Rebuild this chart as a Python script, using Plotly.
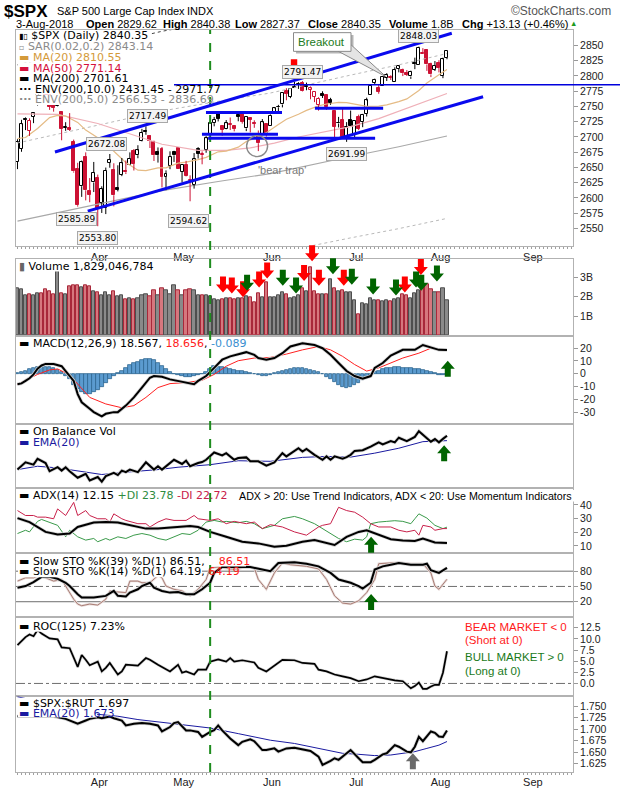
import plotly.graph_objects as go

# ===================== DATA (trading-day index 0 = 2-Mar-2018) =====================
prev_close = 2677.67
opens = [2658.89, 2681.06, 2730.18, 2710.18, 2732.75, 2752.91, 2790.54, 2792.31, 2774.06, 2754.27,
         2750.57, 2741.38, 2715.05, 2714.99, 2691.36, 2646.71, 2619.35, 2667.57, 2611.30, 2625.45,
         2633.45, 2592.17, 2584.04, 2657.36, 2645.82, 2617.18, 2638.41, 2643.89, 2653.83, 2676.90,
         2670.10, 2692.74, 2710.11, 2701.16, 2692.56, 2675.40, 2680.80, 2634.92, 2651.65, 2675.47,
         2682.51, 2642.96, 2654.24, 2628.08, 2621.45, 2680.34, 2670.26, 2678.12, 2705.02, 2722.70,
         2738.47, 2718.59, 2712.62, 2719.71, 2717.35, 2735.39, 2738.34, 2713.98, 2730.94, 2723.60,
         2705.11, 2702.43, 2720.98, 2718.70, 2741.67, 2748.46, 2753.25, 2774.84, 2765.84, 2780.18,
         2785.60, 2787.94, 2783.21, 2777.78, 2765.79, 2752.01, 2769.73, 2769.28, 2760.79, 2742.94,
         2722.12, 2728.45, 2698.69, 2727.13, 2704.95, 2733.27, 2724.19, 2737.68, 2768.51, 2788.56,
         2779.82, 2783.14, 2796.93, 2797.36, 2789.34, 2811.35, 2809.37, 2804.55, 2799.17, 2820.68,
         2817.73, 2835.49, 2842.35, 2819.00, 2809.73, 2821.17, 2800.48, 2829.62]
highs = [2696.25, 2728.09, 2732.08, 2730.60, 2740.45, 2786.57, 2796.98, 2801.90, 2777.11, 2763.03,
         2761.85, 2741.38, 2724.22, 2739.14, 2695.68, 2657.67, 2661.36, 2674.78, 2632.65, 2659.07,
         2638.30, 2619.14, 2649.86, 2672.08, 2656.88, 2653.55, 2665.45, 2661.43, 2674.72, 2680.26,
         2686.49, 2713.34, 2717.49, 2702.84, 2693.94, 2682.86, 2683.55, 2645.30, 2676.48, 2677.35,
         2682.87, 2655.27, 2660.87, 2637.14, 2673.61, 2683.35, 2676.34, 2701.27, 2726.11, 2732.86,
         2742.10, 2718.59, 2727.76, 2731.96, 2719.50, 2739.19, 2742.24, 2733.33, 2731.97, 2727.36,
         2710.67, 2729.34, 2722.50, 2736.93, 2749.16, 2752.61, 2772.39, 2779.90, 2779.39, 2790.21,
         2789.80, 2791.47, 2789.06, 2782.81, 2774.99, 2765.05, 2774.86, 2769.28, 2764.17, 2742.94,
         2732.91, 2746.09, 2724.34, 2743.26, 2727.26, 2736.58, 2737.83, 2764.41, 2784.65, 2795.58,
         2785.91, 2799.22, 2804.53, 2801.19, 2814.19, 2816.76, 2812.05, 2809.70, 2808.61, 2829.99,
         2848.03, 2845.57, 2843.17, 2821.74, 2824.46, 2825.83, 2829.91, 2840.38]
lows = [2647.32, 2675.75, 2711.26, 2701.74, 2722.65, 2751.54, 2779.26, 2758.68, 2744.38, 2741.47,
        2749.97, 2694.59, 2710.05, 2709.79, 2641.59, 2585.89, 2601.81, 2596.12, 2593.06, 2609.72,
        2553.80, 2575.49, 2573.61, 2649.58, 2586.27, 2610.79, 2635.78, 2639.25, 2653.83, 2645.05,
        2665.16, 2692.05, 2703.63, 2681.90, 2660.61, 2657.99, 2617.32, 2612.67, 2647.16, 2659.01,
        2648.04, 2625.41, 2635.03, 2594.62, 2615.32, 2664.70, 2655.20, 2674.14, 2704.54, 2717.45,
        2725.47, 2701.91, 2712.17, 2711.36, 2709.18, 2725.70, 2721.88, 2709.54, 2707.38, 2714.99,
        2676.81, 2702.43, 2700.68, 2718.70, 2740.54, 2739.51, 2748.46, 2760.16, 2763.59, 2780.17,
        2778.78, 2774.65, 2776.52, 2761.73, 2757.12, 2743.19, 2763.91, 2744.39, 2752.68, 2698.67,
        2715.60, 2699.38, 2691.99, 2718.03, 2698.95, 2711.16, 2716.02, 2733.52, 2768.51, 2786.24,
        2770.77, 2783.14, 2791.69, 2793.39, 2789.24, 2805.89, 2799.77, 2800.01, 2795.14, 2811.12,
        2817.73, 2835.26, 2808.34, 2798.11, 2808.06, 2805.85, 2796.34, 2827.37]
closes = [2691.25, 2720.94, 2728.12, 2726.80, 2738.97, 2786.57, 2783.02, 2765.31, 2749.48, 2747.33,
          2752.01, 2712.92, 2716.94, 2711.93, 2643.69, 2588.26, 2658.55, 2612.62, 2605.00, 2640.87,
          2581.88, 2614.45, 2644.69, 2662.84, 2604.47, 2613.16, 2656.87, 2642.19, 2663.99, 2656.30,
          2677.84, 2706.39, 2708.64, 2693.13, 2670.14, 2670.29, 2634.56, 2639.40, 2666.94, 2669.91,
          2648.05, 2654.80, 2635.67, 2629.73, 2663.42, 2672.63, 2671.92, 2697.79, 2723.07, 2727.72,
          2730.13, 2711.45, 2722.46, 2720.13, 2712.97, 2733.01, 2724.44, 2733.29, 2727.76, 2721.33,
          2689.86, 2724.01, 2705.27, 2734.62, 2746.87, 2748.80, 2772.35, 2770.37, 2779.03, 2782.00,
          2786.85, 2775.63, 2782.49, 2779.66, 2773.75, 2762.59, 2767.32, 2749.76, 2754.88, 2717.07,
          2723.06, 2699.63, 2716.31, 2718.37, 2726.71, 2713.22, 2736.61, 2759.82, 2784.17, 2793.84,
          2774.02, 2798.29, 2801.31, 2798.43, 2809.55, 2815.62, 2804.49, 2801.83, 2806.98, 2820.40,
          2846.07, 2837.44, 2818.82, 2802.60, 2816.29, 2813.36, 2827.22, 2840.35]
volume_b = [2.45, 2.40, 2.10, 2.15, 2.10, 2.20, 2.20, 2.40, 2.30, 2.15,
            3.30, 2.20, 2.15, 2.55, 2.60, 2.60, 2.50, 2.60, 2.55, 2.30,
            2.25, 2.10, 2.25, 2.05, 2.30, 2.00, 2.05, 1.85, 1.90, 1.85,
            1.90, 2.10, 2.15, 2.00, 2.35, 2.10, 2.45, 2.35, 2.15, 2.60,
            2.35, 2.10, 2.35, 2.40, 2.35, 2.05, 2.05, 2.10, 2.00, 1.85,
            1.80, 1.85, 1.90, 1.90, 1.85, 1.90, 1.90, 2.00, 1.95, 1.70,
            2.20, 1.95, 2.75, 1.95, 1.95, 2.05, 2.25, 2.15, 1.90, 1.95,
            2.05, 2.45, 2.30, 3.50, 2.30, 2.15, 2.15, 2.15, 2.90, 2.45,
            2.30, 2.35, 2.25, 2.25, 1.80, 1.12, 1.68, 1.60, 1.90, 1.80,
            1.80, 1.75, 1.80, 1.78, 1.85, 1.90, 2.15, 2.10, 1.90, 2.20,
            2.35, 2.60, 2.65, 2.40, 2.25, 2.25, 2.45, 1.83]

month_labels = ["Apr", "May", "Jun", "Jul", "Aug", "Sep"]
month_start_idx = [20, 41, 63, 84, 105, 128]
signal_day_idx = 48  # 10-May-2018 (green dashed line)

ma20_idx = [0, 2, 5, 8, 10, 12, 15, 17, 20, 22, 25, 27, 30, 32, 35, 37, 40, 42, 45, 47, 50, 52, 55, 57,
            60, 62, 65, 67, 70, 72, 75, 77, 80, 82, 85, 87, 90, 92, 95, 97, 100, 102, 105, 107]
ma20_val = [2697.2, 2699.1, 2713.9, 2731.8, 2735.3, 2734.4, 2723.9, 2711.3, 2698.6, 2689.1, 2670.5, 2658.0,
            2645.5, 2644.7, 2649.2, 2649.4, 2657.2, 2658.8, 2663.0, 2666.6, 2675.7, 2676.7, 2683.3, 2692.5,
            2700.2, 2707.1, 2720.3, 2729.0, 2737.3, 2743.6, 2751.0, 2754.0, 2756.8, 2756.2, 2752.6, 2750.2,
            2750.4, 2752.5, 2757.9, 2762.4, 2776.3, 2788.3, 2802.0, 2810.55]
ma50_idx = [0, 10, 20, 30, 36, 45, 52, 58, 64, 70, 76, 83, 90, 95, 100, 104, 107]
ma50_val = [2738, 2737, 2722, 2700, 2688, 2678, 2678, 2682, 2690, 2700, 2708, 2717, 2730, 2742, 2754, 2764, 2771.14]
ma200_idx = [0, 20, 36, 50, 63, 83, 95, 107]
ma200_val = [2562, 2590, 2612, 2627, 2640, 2668, 2684, 2701.61]
env5_up = [2690.1, 2719.5, 2742.6, 2758.4, 2772.0, 2801.4, 2818.2, 2836.69]
env5_lo = [2433.9, 2460.5, 2481.4, 2495.7, 2508.0, 2534.6, 2549.8, 2566.53]
env10_up = [2818.2, 2849.0, 2873.2, 2889.7, 2904.0, 2934.8, 2952.4, 2971.77]

macd_idx = [0, 1, 2, 3, 4, 5, 6, 7, 9, 11, 12, 14, 15, 16, 18, 19, 21, 22, 24, 25, 27, 29, 31, 33, 34, 36, 38,
            40, 42, 44, 45, 47, 49, 51, 53, 55, 57, 59, 60, 62, 64, 66, 68, 71, 74, 76, 78, 80, 82, 84, 86,
            88, 89, 91, 93, 96, 99, 101, 103, 105, 107]
macd_val = [-8.2, -7.5, -5.5, -3.5, -0.5, 4.0, 6.5, 7.7, 7.7, 5.9, 2.1, -5.6, -15.9, -22.3, -27.4, -30.0,
            -33.3, -31.3, -30.0, -30.0, -24.9, -18.5, -10.8, -3.1, -1.8, -2.3, -4.4, -5.6, -6.4, -8.2, -5.6,
            -1.8, 4.6, 11.0, 13.6, 15.4, 16.9, 14.8, 12.3, 11.0, 12.3, 16.1, 21.3, 23.8, 22.5, 20.0, 14.8,
            8.4, 2.1, -1.8, -3.9, -1.8, 4.6, 8.4, 14.3, 18.7, 18.7, 22.5, 20.3, 18.7, 18.567]
sig_idx = [0, 5, 8, 10, 13, 15, 18, 22, 26, 29, 32, 35, 38, 42, 46, 49, 52, 55, 59, 63, 67, 71, 75, 78, 81,
           84, 87, 90, 93, 96, 100, 103, 105, 107]
sig_val = [-8.2, -0.5, 3.0, 3.8, -1.0, -8.2, -18.5, -23.6, -26.6, -24.9, -18.5, -10.8, -7.7, -6.9, -5.1,
           -0.5, 5.9, 10.2, 12.3, 12.8, 15.4, 18.7, 21.3, 18.7, 13.6, 7.2, 2.1, 4.6, 8.4, 12.3, 16.1, 20.0,
           19.0, 18.656]
macd_hist = [0.5, 1.5, 2.5, 3.5, 4.5, 5.2, 5.8, 5.6, 5.0, 4.2, 3.0, 1.2,
             -1.5, -4.5, -8.5, -12.0, -14.5, -16.0, -15.5, -14.0, -12.5, -10.0, -7.0, -4.5, -2.0,
             0.5, 2.5, 4.5, 6.5, 8.0, 9.5, 10.5, 11.2, 11.5, 10.5, 8.5, 6.0, 3.5, 1.5,
             0.0, -1.0, -1.8, -2.2, -2.5, -2.0, -1.2, -0.5,
             1.5, 4.0, 5.8, 5.5, 5.0, 4.3, 3.5, 3.0, 2.5, 2.0,
             1.2, 0.5, -0.5, -1.2, -1.5, -1.8,
             -0.8, 0.5, 1.5, 2.5, 3.2, 3.8, 4.2, 4.5, 4.4, 4.0, 3.2, 2.2, 1.2,
             -0.5, -2.5, -4.5, -6.5, -8.5, -10.0, -10.8, -10.5, -9.0, -7.0, -5.0, -3.0, -1.0,
             1.0, 2.5, 3.5, 4.2, 4.8, 5.0, 5.0, 4.8, 4.5, 4.2, 3.8, 3.5, 3.2, 2.5, 1.5,
             0.5, -0.8, -1.0, -0.089]

obv_idx = [0, 2, 4, 5, 7, 8, 10, 11, 12, 13, 15, 17, 18, 20, 21, 22, 24, 25, 26, 27, 28, 30, 32, 34, 35, 36,
           39, 41, 42, 43, 45, 46, 47, 49, 51, 52, 54, 55, 57, 58, 60, 62, 64, 66, 67, 69, 70, 71, 72, 74,
           76, 77, 78, 79, 81, 82, 83, 84, 86, 88, 90, 91, 93, 94, 95, 97, 98, 99, 100, 101, 102, 103, 104,
           105, 106, 107]
obv_val = [18.3, 25.7, 23.3, 29.3, 25.0, 16.7, 20.7, 17.3, 20.7, 16.7, 10.0, 14.0, 7.3, 10.7, 6.0, 11.7,
           15.0, 12.7, 17.3, 15.7, 18.3, 15.7, 25.7, 18.3, 21.7, 18.3, 28.3, 24.0, 27.3, 21.7, 25.0, 26.0,
           28.3, 35.7, 32.7, 35.0, 28.3, 30.0, 30.7, 26.7, 26.7, 22.3, 25.7, 35.0, 31.7, 37.3, 40.0, 36.7,
           39.3, 33.3, 28.3, 31.7, 28.3, 31.7, 29.3, 31.0, 33.3, 37.3, 38.0, 41.7, 46.0, 44.0, 47.3, 46.0,
           50.7, 47.3, 49.0, 51.5, 57.3, 53.5, 50.0, 46.7, 49.3, 46.0, 49.5, 52.7]
obv_ema_idx = [0, 5, 10, 15, 21, 28, 35, 40, 48, 55, 63, 71, 77, 83, 89, 95, 101, 107]
obv_ema_val = [18.3, 21.7, 20.0, 16.7, 13.3, 16.0, 18.3, 20.7, 23.3, 27.3, 26.7, 30.7, 31.7, 31.0, 35.0,
               40.0, 46.7, 47.7]

adx_idx = [0, 3, 7, 10, 13, 15, 19, 22, 25, 28, 32, 35, 39, 43, 45, 48, 52, 56, 60, 64, 67, 71, 74, 77, 79,
           82, 85, 87, 90, 93, 96, 99, 101, 104, 107]
adx_val = [30.4, 27.5, 20.3, 18.4, 19.1, 23.9, 27.1, 27.5, 27.1, 25.1, 22.7, 22.7, 23.9, 24.6, 23.9, 20.3,
           16.7, 13.1, 11.9, 9.5, 10.2, 13.1, 14.3, 11.9, 10.7, 16.7, 20.3, 21.5, 18.4, 15.0, 14.0, 13.6,
           15.5, 12.6, 12.15]
pdi_idx = [0, 2, 3, 5, 6, 8, 10, 12, 13, 15, 17, 19, 20, 22, 23, 25, 27, 29, 31, 33, 35, 37, 39, 41, 43, 45,
           47, 49, 51, 52, 55, 57, 59, 61, 64, 66, 69, 71, 74, 76, 78, 80, 82, 84, 86, 87, 88, 90, 92, 94,
           96, 98, 99, 100, 102, 104, 106, 107]
pdi_val = [19.1, 21.5, 20.3, 28.0, 29.4, 27.5, 25.1, 16.7, 21.5, 16.7, 14.3, 15.5, 13.1, 15.5, 14.3, 16.7,
           15.5, 17.9, 19.1, 17.9, 15.5, 14.3, 16.7, 19.1, 18.4, 21.5, 27.5, 28.7, 27.5, 28.0, 27.0, 28.0,
           26.3, 22.7, 25.1, 29.9, 31.6, 29.9, 26.3, 22.7, 19.1, 15.5, 13.1, 15.0, 14.3, 16.7, 26.3, 27.5,
           28.0, 28.5, 28.0, 26.3, 29.9, 33.5, 30.4, 25.1, 22.7, 23.78]
mdi_idx = [0, 2, 4, 5, 7, 9, 10, 12, 14, 15, 17, 18, 20, 22, 23, 24, 26, 27, 30, 32, 33, 35, 37, 39, 42, 44,
           45, 48, 50, 52, 54, 57, 59, 61, 63, 66, 69, 72, 75, 76, 78, 80, 82, 84, 86, 88, 90, 93, 95, 97,
           99, 100, 101, 103, 104, 106, 107]
mdi_val = [35.9, 32.3, 32.3, 31.1, 31.1, 29.9, 37.1, 32.3, 41.9, 32.3, 35.9, 32.3, 29.9, 29.9, 27.5, 33.5,
           29.9, 28.7, 26.3, 26.3, 23.9, 27.5, 29.9, 28.7, 28.7, 32.3, 29.9, 28.7, 29.9, 26.3, 28.0, 26.3,
           27.5, 22.7, 25.6, 23.9, 20.3, 17.9, 23.9, 25.1, 26.3, 38.3, 35.9, 34.7, 31.1, 26.3, 23.9, 23.9,
           21.5, 20.3, 21.5, 17.9, 25.1, 23.9, 21.5, 22.7, 22.72]

k39_idx = [0, 2, 4, 6, 8, 10, 12, 13, 15, 16, 19, 22, 24, 25, 27, 28, 30, 31, 33, 34, 36, 38, 40, 42, 44, 46,
           48, 49, 51, 53, 56, 58, 61, 63, 65, 69, 72, 75, 78, 80, 83, 85, 86, 88, 89, 91, 93, 95, 98, 101,
           102, 103, 105, 107]
k39_val = [47.6, 50.8, 58.6, 68.9, 68.9, 65.0, 57.3, 50.8, 34.7, 28.3, 28.3, 31.5, 41.2, 31.5, 30.2, 37.9,
           44.4, 50.8, 57.3, 47.6, 41.2, 37.9, 39.2, 34.7, 34.7, 44.4, 57.3, 76.6, 88.2, 88.2, 88.2, 88.2,
           83.1, 79.8, 96.0, 97.3, 94.7, 89.5, 76.6, 63.7, 57.3, 50.8, 45.7, 57.3, 83.1, 89.5, 92.7, 96.0,
           92.7, 92.7, 94.7, 81.8, 76.6, 86.51]
k14_idx = [0, 2, 4, 5, 7, 9, 11, 12, 14, 15, 16, 18, 20, 22, 23, 25, 27, 28, 30, 31, 33, 35, 36, 37, 39, 41,
           43, 45, 47, 48, 50, 53, 55, 57, 59, 60, 62, 64, 66, 68, 72, 75, 77, 79, 81, 83, 85, 87, 89, 90,
           93, 95, 98, 101, 103, 104, 105, 107]
k14_val = [60.5, 67.0, 67.0, 70.2, 67.0, 60.5, 63.7, 50.8, 25.0, 15.4, 12.1, 15.4, 13.4, 25.0, 41.2, 39.2,
           37.9, 60.5, 60.5, 57.3, 57.3, 71.5, 67.0, 50.8, 44.4, 41.2, 31.5, 44.4, 63.7, 86.3, 88.2, 84.4,
           84.4, 89.5, 86.3, 63.7, 44.4, 76.6, 96.0, 92.7, 89.5, 84.4, 63.7, 31.5, 17.3, 15.4, 21.8, 37.9,
           63.7, 94.7, 96.0, 97.3, 94.7, 94.7, 76.6, 50.8, 44.4, 64.19]

roc_idx = [0, 2, 3, 4, 5, 6, 8, 10, 11, 13, 15, 16, 17, 18, 20, 21, 22, 23, 25, 26, 27, 29, 30, 32, 33, 35,
           37, 38, 40, 41, 42, 44, 45, 47, 48, 50, 52, 53, 54, 56, 59, 60, 62, 64, 66, 69, 71, 74, 75, 77,
           79, 81, 83, 85, 87, 89, 91, 93, 94, 96, 98, 99, 100, 101, 102, 103, 104, 105, 106, 107]
roc_val = [8.6, 10.4, 11.0, 10.6, 12.0, 11.2, 10.1, 9.9, 8.1, 7.9, 3.7, 6.4, 5.3, 4.1, 4.9, 2.7, 3.5, 4.6,
           2.0, 2.7, 4.2, 4.0, 4.0, 5.7, 5.3, 4.2, 3.1, 2.7, 4.2, 2.4, 2.7, 2.0, 3.1, 3.1, 4.9, 5.4, 4.9,
           5.7, 4.9, 5.2, 4.7, 3.5, 2.7, 4.0, 5.3, 5.2, 4.6, 4.4, 3.1, 2.7, 2.0, 1.6, 1.2, 0.5, 0.9, 1.6,
           1.2, 0.9, 0.7, 0.5, -1.1, -0.6, 0.2, -1.2, -1.2, -0.7, -0.3, -0.3, 2.4, 7.23]

rut_idx = [0, 3, 6, 9, 12, 14, 15, 17, 18, 20, 21, 23, 24, 26, 27, 29, 31, 33, 35, 36, 38, 39, 40, 42, 43,
           45, 46, 48, 49, 50, 51, 53, 55, 56, 58, 59, 61, 62, 64, 65, 67, 69, 71, 73, 75, 76, 78, 79, 80,
           82, 83, 85, 86, 88, 89, 91, 92, 94, 95, 97, 98, 99, 100, 101, 103, 104, 105, 106, 107]
rut_val = [1.7285, 1.729, 1.7285, 1.7285, 1.7226, 1.7155, 1.7119, 1.719, 1.7226, 1.7263, 1.7241, 1.7276,
           1.7241, 1.719, 1.7082, 1.7119, 1.7134, 1.7119, 1.7082, 1.6953, 1.7047, 1.7134, 1.7155, 1.6974,
           1.6974, 1.694, 1.6832, 1.694, 1.698, 1.7082, 1.6974, 1.6795, 1.6651, 1.6724, 1.678, 1.6737,
           1.6543, 1.6543, 1.658, 1.6509, 1.658, 1.6595, 1.6565, 1.6522, 1.6401, 1.622, 1.6306, 1.6364,
           1.6328, 1.6472, 1.6543, 1.6364, 1.6278, 1.6278, 1.6328, 1.645, 1.6472, 1.6651, 1.6616, 1.6509,
           1.6494, 1.6616, 1.6832, 1.6737, 1.695, 1.692, 1.684, 1.683, 1.697]
rut_ema_idx = [0, 5, 10, 15, 19, 25, 30, 37, 42, 48, 55, 63, 69, 75, 81, 85, 89, 93, 96, 99, 102, 105, 107]
rut_ema_val = [1.771, 1.762, 1.752, 1.741, 1.7334, 1.7284, 1.7211, 1.714, 1.7082, 1.7026, 1.6903, 1.6759,
               1.6688, 1.658, 1.6472, 1.645, 1.6422, 1.6435, 1.6472, 1.6509, 1.658, 1.6651, 1.673]

# analyst annotations: (panel, day index, value at arrow tip)
red_down_arrows = [("vol", 51.2, 2.22), ("vol", 53.4, 2.17), ("vol", 56.2, 1.97), ("vol", 60.2, 2.47),
                   ("vol", 62.2, 2.93), ("vol", 71.4, 2.81), ("vol", 73.4, 3.82), ("vol", 75.1, 2.56),
                   ("vol", 81.3, 2.56), ("vol", 96.5, 2.22), ("vol", 100.5, 3.12), ("main", 68.9, 2797.9)]
green_down_arrows = [("vol", 57.2, 2.31), ("vol", 66.1, 2.56), ("vol", 69.4, 2.16), ("vol", 78.6, 3.15),
                     ("vol", 83.3, 2.61), ("vol", 88.6, 2.11), ("vol", 94.3, 2.06), ("vol", 99.3, 2.47),
                     ("vol", 100.6, 2.31), ("vol", 104.5, 2.78)]
green_up_arrows = [("macd", 107.2, 10.2), ("obv", 106.3, 43.0), ("adx", 88.1, 16.7), ("sto", 88.1, 35.4)]
gray_up_arrows = [("rut", 98.5, 1.6472)]

price_labels = [("2717.49", 32.3, 2735.0), ("2672.08", 22.3, 2688.2), ("2585.89", 14.8, 2565.6),
                ("2553.80", 19.9, 2535.0), ("2594.62", 42.7, 2562.0), ("2791.47", 71.0, 2806.0),
                ("2848.03", 100.0, 2865.6), ("2691.99", 82.0, 2672.0)]
upper_channel = [(9.34, 2675.3), (108.2, 2870.0)]
lower_channel = [(17.5, 2578.5), (116.0, 2766.0)]
level_segments = [(46.96, 65.9, 2740.0), (45.96, 64.9, 2704.4), (47.5, 89.1, 2698.0), (74.1, 91.1, 2747.0)]
breakout_level = 2785.5

# ===================== GEOMETRY =====================
W, H = 620, 800
ML, MR, MT, MB = 16, 47, 30, 16
PW, PH = W - ML - MR, H - MT - MB
XR = [-0.37, 138.4]
PANELS = ["main", "vol", "macd", "obv", "adx", "sto", "roc", "rut"]
PANEL_PX = {"main": (30, 250), "vol": (263, 341), "macd": (341, 430), "obv": (430, 495),
            "adx": (495, 561), "sto": (561, 627), "roc": (627, 707), "rut": (707, 784)}
YR = {"main": (2520.5, 2875.3), "vol": (-0.015, 3.92), "macd": (-39.0, 29.5), "obv": (0, 65),
      "adx": (5.2, 52.7), "sto": (-11.0, 116.6), "roc": (-2.87, 14.8), "rut": (1.6063, 1.7722)}


def axid(p):
    i = PANELS.index(p) + 1
    s = "" if i == 1 else str(i)
    return "x" + s, "y" + s


def dom(p):
    t, b = PANEL_PX[p]
    return [(H - MB - b) / PH, (H - MB - t) / PH]


def PX(x):
    return (x - ML) / PW


def PY(y):
    return (H - MB - y) / PH


def DX(i):
    return (i - XR[0]) / (XR[1] - XR[0])


def DY(p, v):
    d0, d1 = dom(p)
    r0, r1 = YR[p]
    return d0 + (v - r0) / (r1 - r0) * (d1 - d0)


fig = go.Figure()


def add_line(p, xs, ys, color, width=1.0, dash=None):
    xa, ya = axid(p)
    fig.add_trace(go.Scatter(x=xs, y=ys, mode="lines", xaxis=xa, yaxis=ya, hoverinfo="skip",
                             showlegend=False, line=dict(color=color, width=width, dash=dash)))


RED = "#cc1133"
BLACK = "#000000"

# ---------- main panel ----------
add_line("main", ma200_idx, env10_up, "#444444", 1, "dot")
add_line("main", ma200_idx, env5_up, "#b9b9b9", 1, "dot")
add_line("main", ma200_idx, env5_lo, "#b9b9b9", 1, "dot")
add_line("main", ma200_idx, ma200_val, "#a9a9a9", 1.2)
add_line("main", ma50_idx, ma50_val, "#efb0b8", 1.2)
add_line("main", ma20_idx, ma20_val, "#e5bb85", 1.2)

days = list(range(len(closes)))
prevs = [prev_close] + closes[:-1]
is_down = [c < p for c, p in zip(closes, prevs)]
for col, flag in ((RED, True), (BLACK, False)):
    wx, wy = [], []
    for i in days:
        if is_down[i] != flag:
            continue
        top = max(opens[i], closes[i])
        bot = min(opens[i], closes[i])
        wx += [i, i, None, i, i, None]
        wy += [highs[i], top, None, bot, lows[i], None]
    add_line("main", wx, wy, col, 1)

line_cols = [RED if d else BLACK for d in is_down]
fill_cols = ["#ffffff" if c >= o else lc for o, c, lc in zip(opens, closes, line_cols)]
fig.add_trace(go.Bar(x=days, y=[max(abs(c - o), 0.9) for o, c in zip(opens, closes)],
                     base=[min(o, c) for o, c in zip(opens, closes)], width=0.74,
                     marker=dict(color=fill_cols, line=dict(color=line_cols, width=1)),
                     xaxis="x", yaxis="y", hoverinfo="skip", showlegend=False))

# ---------- volume ----------
fig.add_trace(go.Bar(x=days, y=volume_b, width=0.8,
                     marker=dict(color=["#d6777e" if d else "#8a8a8a" for d in is_down],
                                 line=dict(color=["#a8283a" if d else "#4e4e4e" for d in is_down], width=1)),
                     xaxis="x2", yaxis="y2", hoverinfo="skip", showlegend=False))

# ---------- MACD ----------
fig.add_trace(go.Bar(x=days, y=macd_hist, width=0.9,
                     marker=dict(color="#5b9bcf", line=dict(color="#2d6690", width=0.8)),
                     xaxis="x3", yaxis="y3", hoverinfo="skip", showlegend=False))
add_line("macd", sig_idx, sig_val, "#ff2020", 1)
add_line("macd", macd_idx, macd_val, "#d2d2d2", 3.5)
add_line("macd", macd_idx, macd_val, BLACK, 2)

# ---------- OBV ----------
add_line("obv", obv_ema_idx, obv_ema_val, "#1a1aa0", 1)
add_line("obv", obv_idx, obv_val, "#d6d6d6", 3.5)
add_line("obv", obv_idx, obv_val, BLACK, 2)

# ---------- ADX ----------
add_line("adx", pdi_idx, pdi_val, "#3a9a4a", 1)
add_line("adx", mdi_idx, mdi_val, "#c8204a", 1)
add_line("adx", adx_idx, adx_val, "#d2d2d2", 3.5)
add_line("adx", adx_idx, adx_val, BLACK, 2)

# ---------- STO ----------
add_line("sto", k14_idx, k14_val, "#e8dcda", 2.4)
add_line("sto", k14_idx, k14_val, "#a87c74", 1)
add_line("sto", k39_idx, k39_val, "#d2d2d2", 3.5)
add_line("sto", k39_idx, k39_val, BLACK, 2)

# ---------- ROC ----------
add_line("roc", roc_idx, roc_val, "#d6d6d6", 3)
add_line("roc", roc_idx, roc_val, BLACK, 1.7)

# ---------- SPX:RUT ----------
add_line("rut", rut_ema_idx, rut_ema_val, "#1a1aa0", 1)
add_line("rut", rut_idx, rut_val, "#d2d2d2", 3.5)
add_line("rut", rut_idx, rut_val, BLACK, 2)

# ===================== AXES =====================
BORDER = "#b2b2b2"
TICKFONT = dict(family="Liberation Sans", size=10.5, color="#222222")
layout = dict(width=W, height=H, margin=dict(l=ML, r=MR, t=MT, b=MB), paper_bgcolor="white",
              plot_bgcolor="white", barmode="overlay", bargap=0, showlegend=False,
              font=dict(family="DejaVu Sans", size=11, color="#000"))
month_pos = [m + 0.4 for m in month_start_idx]
ytick = {
    "main": ([2550 + 25 * k for k in range(13)], [str(2550 + 25 * k) for k in range(13)]),
    "vol": ([1, 2, 3], ["1B", "2B", "3B"]),
    "macd": ([-30, -20, -10, 0, 10, 20], ["-30", "-20", "-10", "0", "10", "20"]),
    "obv": ([], []),
    "adx": ([10, 20, 30, 40], ["10", "20", "30", "40"]),
    "sto": ([20, 50, 80], ["20", "50", "80"]),
    "roc": ([0, 2.5, 5, 7.5, 10, 12.5], ["0.0", "2.5", "5.0", "7.5", "10.0", "12.5"]),
    "rut": ([1.625, 1.65, 1.675, 1.7, 1.725, 1.75], ["1.625", "1.650", "1.675", "1.700", "1.725", "1.750"]),
}
for p in PANELS:
    xa, ya = axid(p)
    xkey = "xaxis" if xa == "x" else "xaxis" + xa[1:]
    ykey = "yaxis" if ya == "y" else "yaxis" + ya[1:]
    show_lbl = p in ("main", "rut")
    xd = dict(domain=[0, 1], anchor=ya, range=XR, showgrid=False, zeroline=False, showline=True,
              mirror=True, linecolor=BORDER, linewidth=1, tickmode="array", tickvals=month_pos,
              ticktext=month_labels, showticklabels=show_lbl, ticks="",
              tickfont=dict(family="Liberation Sans", size=11, color="#222"), fixedrange=True)
    if show_lbl:
        xd["minor"] = dict(tickmode="linear", tick0=0, dtick=1, ticks="outside", ticklen=2,
                           tickcolor="#a0a0a0", tickwidth=1)
    layout[xkey] = xd
    tv, tt = ytick[p]
    layout[ykey] = dict(domain=dom(p), anchor=xa, range=list(YR[p]), side="right", showgrid=False,
                        zeroline=False, showline=True, mirror=True, linecolor=BORDER, linewidth=1,
                        ticks="outside" if tv else "", ticklen=4, tickcolor="#999999", tickfont=TICKFONT,
                        tickmode="array", tickvals=tv, ticktext=tt, showticklabels=bool(tv), fixedrange=True)
fig.update_layout(**layout)

# ===================== SHAPES =====================
shapes = []
# white backing behind the legend rows (rows sit on an opaque strip, as in the reference)
legend_backs = [(18, 151, 30.6, 41.4), (18, 154, 41.4, 52.4), (18, 113, 52.4, 63.4), (18, 113, 63.4, 74.2),
                (18, 119, 74.2, 84.8), (18, 175, 84.8, 95.4), (18, 169, 95.4, 106.3),
                (18, 160, 264.5, 275.5), (18, 253, 343, 354), (18, 117, 431.5, 443), (18, 74, 443, 454.5),
                (18, 575, 497.5, 509), (18, 246, 564.5, 575.2), (18, 202, 575.2, 586), (18, 127, 630.5, 641.5),
                (18, 132, 708.5, 719.5), (18, 97, 719.5, 728.6)]
for x0, x1, y0, y1 in legend_backs:
    shapes.append(dict(type="rect", xref="paper", yref="paper", x0=PX(x0), x1=PX(x1), y0=PY(y1), y1=PY(y0),
                       fillcolor="white", line=dict(width=0), layer="above"))
# green dashed vertical line through all panels
shapes.append(dict(type="line", xref="x", yref="paper", x0=signal_day_idx, x1=signal_day_idx, y0=0, y1=1,
                   line=dict(color="#1e8c1e", width=2, dash="dash"), layer="above"))
# breakout horizontal line (runs to the page edge)
shapes.append(dict(type="line", xref="paper", yref="paper", x0=DX(39.0), x1=PX(620), y0=DY("main", breakout_level),
                   y1=DY("main", breakout_level), line=dict(color="#0000dd", width=1.6)))
for (x0, y0), (x1, y1) in (upper_channel, lower_channel):
    shapes.append(dict(type="line", xref="x", yref="y", x0=x0, y0=y0, x1=x1, y1=y1,
                       line=dict(color="#0a0aee", width=3)))
for a, b, lv in level_segments:
    shapes.append(dict(type="line", xref="x", yref="y", x0=a, x1=b, y0=lv, y1=lv,
                       line=dict(color="#0a0aee", width=3)))
# reference lines
for lv, dash in ((80, "solid"), (20, "solid"), (50, "dashdot")):
    shapes.append(dict(type="line", xref="x6", yref="y6", x0=XR[0], x1=XR[1], y0=lv, y1=lv,
                       line=dict(color="#6e6e6e", width=1, dash=dash), layer="below"))
shapes.append(dict(type="line", xref="x7", yref="y7", x0=XR[0], x1=XR[1], y0=0, y1=0,
                   line=dict(color="#6e6e6e", width=1, dash="dashdot"), layer="below"))
# bear-trap circle
shapes.append(dict(type="circle", xref="x", yref="y", xsizemode="pixel", ysizemode="pixel",
                   xanchor=59.7, yanchor=2685.0, x0=-10.5, x1=10.5, y0=-10.5, y1=10.5,
                   line=dict(color="#8a8a8a", width=1.4)))


def pp(x, y):
    return "%.5f,%.5f" % (PX(x), PY(y))


# Breakout callout box + pointer wedge
shapes.append(dict(type="rect", xref="paper", yref="paper", x0=PX(296), x1=PX(353.5), y0=PY(54), y1=PY(35),
                   fillcolor="#b5b5b5", line=dict(width=0), layer="above"))
shapes.append(dict(type="path", xref="paper", yref="paper",
                   path="M%s L%s L%s Z" % (pp(338, 51.5), pp(351, 45), pp(386, 77.5)),
                   fillcolor="#e4e4e4", line=dict(color="#8a8a8a", width=1), layer="above"))
shapes.append(dict(type="rect", xref="paper", yref="paper", x0=PX(293.5), x1=PX(351), y0=PY(51.7), y1=PY(32.7),
                   fillcolor="#ffffff", line=dict(color="#8a8a8a", width=1), layer="above"))


def arrow(panel, i, v, up, color, big=False):
    hw, hh, sw, tl = (7.5, 9, 3.2, 18) if big else (7, 8, 3, 16)
    s = -1 if up else 1
    path = ("M0,0 L{hw},{a} L{sw},{a} L{sw},{b} L-{sw},{b} L-{sw},{a} L-{hw},{a} Z"
            .format(hw=hw, sw=sw, a=s * hh, b=s * tl))
    return dict(type="path", xref="paper", yref="paper", xsizemode="pixel", ysizemode="pixel",
                xanchor=DX(i), yanchor=DY(panel, v), path=path, fillcolor=color,
                line=dict(width=0), layer="above")


for p, i, v in red_down_arrows:
    shapes.append(arrow(p, i, v, False, "#ff0000", big=(p == "main")))
for p, i, v in green_down_arrows:
    shapes.append(arrow(p, i, v, False, "#006400"))
for p, i, v in green_up_arrows:
    shapes.append(arrow(p, i, v, True, "#006400"))
for p, i, v in gray_up_arrows:
    shapes.append(arrow(p, i, v, True, "#6a6a6a"))
fig.update_layout(shapes=shapes)

# ===================== TEXT =====================
anns = []


def txt(x, y, text, size=11, color="#000", family="DejaVu Sans", xanchor="left"):
    anns.append(dict(xref="paper", yref="paper", x=PX(x), y=PY(y), text=text, showarrow=False,
                     xanchor=xanchor, yanchor="middle", align="left",
                     font=dict(size=size, color=color, family=family), borderpad=0))


LS = "Liberation Sans"
# header
txt(3, 11, "<b>$SPX</b>", 17, "#000", LS)
txt(56, 11, "S&amp;P 500 Large Cap Index", 11, "#000", LS)
txt(186, 11, "INDX", 11, "#000", LS)
txt(612, 11, "©StockCharts.com", 12, "#555", LS, xanchor="right")
txt(15, 24, "3-Aug-2018", 11, "#000", LS)
for xx, lab, val in ((85, "Open", "2829.62"), (162, "High", "2840.38"), (234, "Low", "2827.37"),
                     (307, "Close", "2840.35"), (388, "Volume", "1.8B"), (461, "Chg", "+13.13 (+0.46%)")):
    txt(xx, 24, "<b>%s</b> %s" % (lab, val), 11, "#000", LS)
txt(569, 23, "▲", 7.5, "#1e9a1e", LS)

# main legend
txt(18, 36, "<span style='font-size:8px'>▮▯</span> $SPX (Daily) 2840.35", 11, "#000")
txt(18, 47, "<span style='font-size:8px'>▫</span> SAR(0.02,0.2) 2843.14", 11, "#8a8a8a")
txt(18, 58, "▬ MA(20) 2810.55", 11, "#d49a3a")
txt(18, 69, "▬ MA(50) 2771.14", 11, "#d4103c")
txt(18, 79.5, "▬ MA(200) 2701.61", 11, "#000")
txt(18, 90, "<b>···</b> ENV(200,10.0) 2431.45 - 2971.77", 11, "#000")
txt(18, 101, "<b>···</b> ENV(200,5.0) 2566.53 - 2836.69", 11, "#8a8a8a")

# price labels
for s, i, v in price_labels:
    anns.append(dict(xref="x", yref="y", x=i, y=v, text=s, showarrow=False, bgcolor="#f3f3f3",
                     bordercolor="#a8a8a8", borderwidth=1, borderpad=1,
                     font=dict(family="DejaVu Sans", size=9, color="#000")))
anns.append(dict(xref="paper", yref="paper", x=PX(296), y=PY(42), xanchor="left", yanchor="middle",
                 text="Breakout", showarrow=False, font=dict(family=LS, size=11.5, color="#217a21")))
txt(282, 172, "'bear trap'", 11, "#7a7a7a", LS, xanchor="center")

# panel legends
txt(18, 270, "<span style='color:#666'>▮</span> Volume 1,829,046,784", 11, "#000")
txt(18, 348.5, "▬ MACD(12,26,9) 18.567, <span style='color:#ff2020'>18.656</span>, "
               "<span style='color:#3a8fd0'>-0.089</span>", 11, "#000")
txt(18, 437.5, "▬ On Balance Vol", 11, "#000")
txt(18, 449, "<span style='color:#1a1aa0'>▬ EMA(20)</span>", 11, "#000")
txt(18, 503.5, "▬ ADX(14) 12.15 <span style='color:#2e8b3e'>+DI 23.78</span> "
               "<span style='color:#c8204a'>-DI 22.72</span>", 11, "#000")
txt(238, 503.5, "ADX &gt; 20: Use Trend Indicators, ADX &lt; 20: Use Momentum Indicators", 10.7, "#000", LS)
txt(18, 570, "▬ Slow STO %K(39) %D(1) 86.51,&nbsp;&nbsp;&nbsp; "
             "<span style='color:#ff2020'>86.51</span>", 11, "#000")
txt(18, 580.5, "▬ Slow STO %K(14) %D(1) 64.19, <span style='color:#ff2020'>64.19</span>", 11, "#000")
txt(18, 636, "▬ ROC(125) 7.23%", 11, "#000")
txt(18, 714, "▬ $SPX:$RUT 1.697", 11, "#000")
txt(18, 724.5, "<span style='color:#1a1aa0'>▬ EMA(20) 1.673</span>", 11, "#000")
txt(464, 636.5, "BEAR MARKET &lt; 0", 11.5, "#ff1a1a", LS)
txt(464, 650, "(Short at 0)", 11.5, "#ff1a1a", LS)
txt(464, 667, "BULL MARKET &gt; 0", 11.5, "#1a7a1a", LS)
txt(464, 681, "(Long at 0)", 11.5, "#1a7a1a", LS)

fig.update_layout(annotations=anns)
fig.write_html("out.html")
